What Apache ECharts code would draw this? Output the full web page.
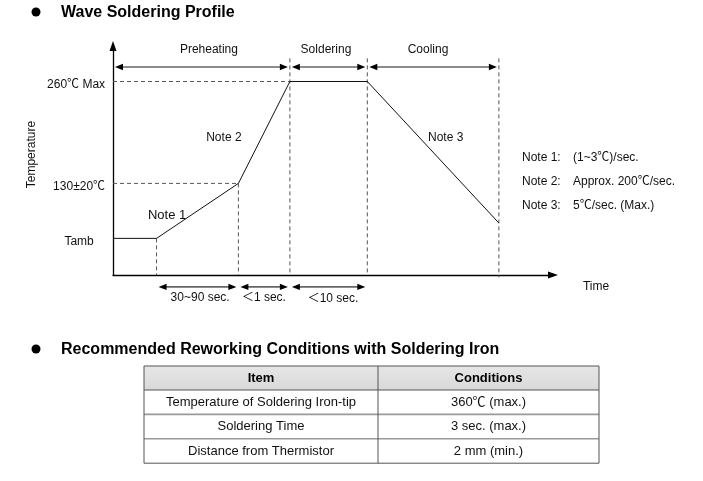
<!DOCTYPE html>
<html><head><meta charset="utf-8">
<script src="https://cdn.jsdelivr.net/npm/echarts@6/dist/echarts.min.js"></script>
<style>html,body{margin:0;padding:0;background:#fff}#c{width:703px;height:481px}</style>
</head><body><div id="c"></div>
<script>
const FONT = '"Liberation Sans", Arial, "Noto Sans CJK JP", "DejaVu Sans", sans-serif';

// ---- data (schematic time / temperature units) ----
const profileTime = [0, 9.9, 28.5, 40.2, 57.8, 87.7];
const profileTemp = [16, 16, 40, 84.5, 84.5, 22.7];

// dashed guide lines [x1, y1, x2, y2]
const guideLines = [
  [0, 84.5, 40.2, 84.5],
  [0, 40, 28.5, 40],
  [9.9, 16, 9.9, 0],
  [28.5, 40, 28.5, 0],
  [40.2, 94.6, 40.2, 0],
  [57.8, 94.6, 57.8, 0],
  [87.7, 94.6, 87.7, -1]
];

// double-headed span arrows [xStart, xEnd, y]
const spanArrows = [
  [0, 40.2, 90.8], [40.2, 57.8, 90.8], [57.8, 87.7, 90.8],
  [9.9, 28.5, -5.2], [28.5, 40.2, -5.2], [40.2, 57.8, -5.2]
];

// annotation texts
const labelTexts = ['Preheating', 'Soldering', 'Cooling', '30~90 sec.', '＜1 sec.', '＜10 sec.',
  'Note 1', 'Note 2', 'Note 3', '260℃ Max', '130±20℃', 'Tamb', 'Time', 'Temperature'];
const labelPos = [[21.8, 98.3], [48.4, 98.3], [71.6, 98.3], [19.8, -10], [34.3, -10], [50, -10.5],
  [12.3, 26.2], [25.2, 59.8], [75.6, 59.8], [-1.8, 83], [-1.8, 38.4], [-7.7, 14.6], [106.8, -5.2], [-18.4, 52.6]];
const labelAlign = ['center', 'center', 'center', 'center', 'center', 'center',
  'center', 'center', 'center', 'right', 'right', 'center', 'left', 'center'];
const labelSize = [12, 12, 12, 12, 12, 12, 13, 12, 12, 12, 12, 12, 12, 12];

const noteNames = ['Note 1:', 'Note 2:', 'Note 3:'];
const noteValues = ['(1~3℃)/sec.', 'Approx. 200℃/sec.', '5℃/sec. (Max.)'];

const titles = ['Wave Soldering Profile', 'Recommended Reworking Conditions with Soldering Iron'];
const tableHeader = ['Item', 'Conditions'];
const tableRows = [
  ['Temperature of Soldering Iron-tip', '360℃ (max.)'],
  ['Soldering Time', '3 sec. (max.)'],
  ['Distance from Thermistor', '2 mm (min.)']
];

// ---- graphic elements (titles, notes, table) ----
const graphics = [];
[[12, 0], [349, 1]].forEach(function (t) {
  graphics.push({ type: 'circle', shape: { cx: 36, cy: t[0], r: 4.5 }, style: { fill: '#000' } });
  graphics.push({ type: 'text', x: 61, y: t[0] + 0.5, style: { text: titles[t[1]], fill: '#000',
    fontSize: 16, fontWeight: 'bold', fontFamily: FONT, verticalAlign: 'middle' } });
});
noteNames.forEach(function (n, i) {
  const y = 157.5 + i * 24.3;
  graphics.push({ type: 'text', x: 522, y: y, style: { text: n, fill: '#111', fontSize: 12, fontFamily: FONT, verticalAlign: 'middle' } });
  graphics.push({ type: 'text', x: 573, y: y, style: { text: noteValues[i], fill: '#111', fontSize: 12, fontFamily: FONT, verticalAlign: 'middle' } });
});
(function () {
  const L = 144, R = 599, D = 378, T = 366, HB = 390, RH = 24.4;
  const B = HB + RH * tableRows.length;
  graphics.push({ type: 'rect', shape: { x: L, y: T, width: R - L, height: HB - T },
    style: { fill: new echarts.graphic.LinearGradient(0, 0, 0, 1, [{ offset: 0, color: '#e6e6e6' }, { offset: 1, color: '#d9d9d9' }]) } });
  for (let i = 1; i < tableRows.length; i++) {
    const y = HB + RH * i;
    graphics.push({ type: 'line', shape: { x1: L, y1: y, x2: R, y2: y }, style: { stroke: '#9a9a9a', lineWidth: 1.6 } });
  }
  graphics.push({ type: 'line', shape: { x1: L, y1: HB, x2: R, y2: HB }, style: { stroke: '#555', lineWidth: 1 } });
  graphics.push({ type: 'rect', shape: { x: L, y: T, width: R - L, height: B - T }, style: { fill: 'none', stroke: '#555', lineWidth: 1 } });
  graphics.push({ type: 'line', shape: { x1: D, y1: T, x2: D, y2: B }, style: { stroke: '#555', lineWidth: 1 } });
  const c1 = (L + D) / 2, c2 = (D + R) / 2;
  [c1, c2].forEach(function (cx, j) {
    graphics.push({ type: 'text', x: cx, y: (T + HB) / 2, style: { text: tableHeader[j], fill: '#000', fontSize: 13,
      fontWeight: 'bold', fontFamily: FONT, align: 'center', verticalAlign: 'middle' } });
    tableRows.forEach(function (row, i) {
      graphics.push({ type: 'text', x: cx, y: HB + RH * i + RH / 2, style: { text: row[j], fill: '#111', fontSize: 13,
        fontFamily: FONT, align: 'center', verticalAlign: 'middle' } });
    });
  });
})();

const axisCommon = {
  type: 'value', min: 0, max: 100,
  axisLine: { show: true, onZero: false, symbol: ['none', 'triangle'], symbolSize: [7, 10], lineStyle: { color: '#000', width: 1.3 } },
  axisTick: { show: false }, axisLabel: { show: false }, splitLine: { show: false }
};

const option = {
  animation: false,
  backgroundColor: '#fff',
  grid: { left: 113, top: 46, width: 440, height: 229 },
  xAxis: Object.assign({}, axisCommon),
  yAxis: Object.assign({}, axisCommon),
  graphic: graphics,
  series: [
    {
      type: 'custom', name: 'guides', clip: false, z: 2,
      data: guideLines,
      renderItem: function (params, api) {
        const d = guideLines[params.dataIndex];
        const p1 = api.coord([d[0], d[1]]), p2 = api.coord([d[2], d[3]]);
        return { type: 'line', shape: { x1: p1[0], y1: p1[1], x2: p2[0], y2: p2[1] },
          style: { stroke: '#555', lineWidth: 1, lineDash: [4, 3] } };
      }
    },
    {
      type: 'custom', name: 'spans', clip: false, z: 3,
      data: spanArrows,
      renderItem: function (params, api) {
        const d = spanArrows[params.dataIndex];
        const a = api.coord([d[0], d[2]]), b = api.coord([d[1], d[2]]);
        const x1 = a[0] + 2, x2 = b[0] - 2, y = a[1], L = 8, H = 3.2;
        return { type: 'group', children: [
          { type: 'line', shape: { x1: x1 + L - 1, y1: y, x2: x2 - L + 1, y2: y }, style: { stroke: '#666', lineWidth: 1.6 } },
          { type: 'polygon', shape: { points: [[x1, y], [x1 + L, y - H], [x1 + L, y + H]] }, style: { fill: '#000' } },
          { type: 'polygon', shape: { points: [[x2, y], [x2 - L, y - H], [x2 - L, y + H]] }, style: { fill: '#000' } }
        ] };
      }
    },
    {
      type: 'line', name: 'profile', z: 4, clip: false,
      data: profileTime.map(function (t, i) { return [t, profileTemp[i]]; }),
      symbol: 'none', lineStyle: { color: '#111', width: 1 }
    },
    {
      type: 'custom', name: 'labels', clip: false, z: 5,
      data: labelPos,
      renderItem: function (params, api) {
        const i = params.dataIndex;
        const p = api.coord(labelPos[i]);
        return { type: 'text', x: p[0], y: p[1], rotation: labelTexts[i] === 'Temperature' ? Math.PI / 2 : 0,
          style: { text: labelTexts[i], fill: '#111', fontSize: labelSize[i], fontFamily: FONT,
            align: labelAlign[i], verticalAlign: 'middle' } };
      }
    }
  ]
};
const chart = echarts.init(document.getElementById('c'), null, { renderer: 'canvas' });
chart.setOption(option);
</script></body></html>
